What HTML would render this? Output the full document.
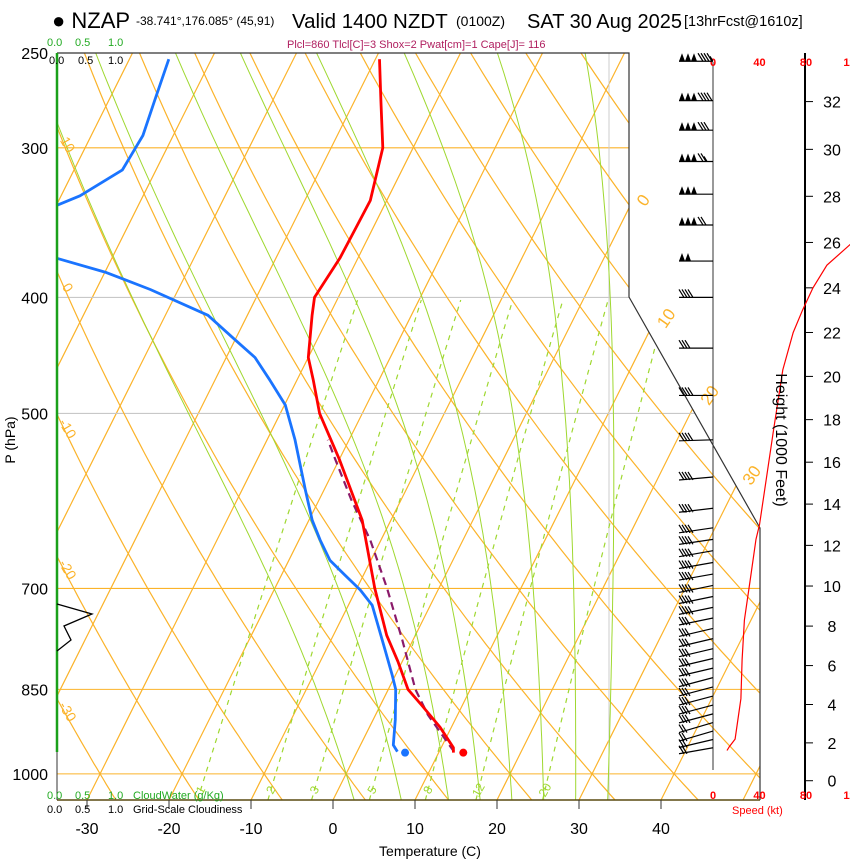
<!DOCTYPE html>
<html><head><meta charset="utf-8"><style>
html,body{margin:0;padding:0;background:#fff}
svg{display:block;font-family:"Liberation Sans",sans-serif}
</style></head><body>
<svg id="c" width="850" height="860" viewBox="0 0 850 860" xmlns="http://www.w3.org/2000/svg">
<defs><clipPath id="plotClip"><polygon points="57,53 629,53 629,297 760,528 760,800 57,800"/></clipPath>
<clipPath id="spdClip"><rect x="700" y="40" width="150" height="770"/></clipPath></defs>
<g id="grid" clip-path="url(#plotClip)"></g>
<g id="series" clip-path="url(#plotClip)"></g>
<g id="axes"></g>
<g id="barbs"></g>
<g id="spd" clip-path="url(#spdClip)"></g>
<g id="txt">
<text x="52" y="28" font-size="22">● NZAP</text>
<text x="136" y="25" font-size="12">-38.741°,176.085° (45,91)</text>
<text x="292" y="28" font-size="20.5">Valid 1400 NZDT</text>
<text x="456" y="26" font-size="14">(0100Z)</text>
<text x="527" y="28" font-size="20">SAT 30 Aug 2025</text>
<text x="684" y="26" font-size="14.5">[13hrFcst@1610z]</text>
<text x="287" y="48" font-size="11" fill="#b02060">Plcl=860 Tlcl[C]=3 Shox=2 Pwat[cm]=1 Cape[J]= 116</text>
<text x="47" y="46" font-size="11" fill="#22aa22">0.0 <tspan x="75">0.5</tspan><tspan x="108">1.0</tspan></text>
<text x="49" y="64" font-size="11">0.0 <tspan x="78">0.5</tspan><tspan x="108">1.0</tspan></text>
<text x="47" y="799" font-size="11" fill="#22aa22">0.0 <tspan x="75">0.5</tspan><tspan x="108">1.0</tspan><tspan x="133">CloudWater (g/Kg)</tspan></text>
<text x="47" y="813" font-size="11">0.0 <tspan x="75">0.5</tspan><tspan x="108">1.0</tspan><tspan x="133">Grid-Scale Cloudiness</tspan></text>
<text x="732" y="814" font-size="11" fill="#ff0000">Speed (kt)</text>
<text x="430" y="856" font-size="14" text-anchor="middle">Temperature (C)</text>
<text transform="translate(15,440) rotate(-90)" font-size="14" text-anchor="middle">P (hPa)</text>
<text transform="translate(776,440) rotate(90)" font-size="16" text-anchor="middle">Height (1000 Feet)</text>
</g>
</svg>
<script>
// ---------- data ----------
const pressureTicks=[250,300,400,500,700,850,1000];
const tempTicks=[-30,-20,-10,0,10,20,30,40];
const heightTicks=[0,2,4,6,8,10,12,14,16,18,20,22,24,26,28,30,32];
const speedTicks=[0,40,80,120];
const mixRatios=[1,2,3,5,8,12,20];
const moistThetaW=[0,6,12,16,20,24,28,32];
const tempP=[253,274,300,332,351,371,400,414,449,469,500,547,614,700,766,806,850,876,914,951,960];
const tempT=[-39.5,-36.8,-33.7,-32.0,-32.1,-32.2,-32.9,-32.1,-30.0,-28.0,-25.2,-19.9,-13.5,-7.8,-3.5,-0.5,2.4,5.0,8.6,11.5,11.8];
const dewP=[253,274,293,313,329,335,351,360,371,381,394,414,434,449,469,492,526,579,614,638,663,682,702,723,751,788,827,850,901,946,958];
const dewT=[-65.2,-64.4,-63.7,-64.1,-67.7,-69.9,-85,-85,-66.7,-60.0,-53.4,-44.8,-40.0,-36.5,-33.3,-29.9,-26.6,-22.3,-19.6,-17.4,-15.0,-12.3,-9.5,-7.1,-5.2,-2.8,-0.4,0.9,2.7,4.0,4.9];
const parcelP=[958,893,850,773,700,638,590,547,526];
const parcelT=[11.8,6.4,3.3,-1.3,-6.3,-11.3,-16.1,-20.4,-22.6];
const surfaceP=960, surfaceT=13.0, surfaceTd=5.9;
const speedHeights=[1.6,1.8,2.2,4.3,6.3,8.3,10.3,12.3,13,17.5,20.3,22,23,24,25,26,27];
const speedValues=[12,14,19,24,25,27,32,37,40,52,60,69,77,86,98,120,140];
const barbP=[254,274,290,308,328,348,373,400,441,483,526,565,600,623,637,651,666,681,696,711,726,741,756,771,786,801,816,831,846,861,876,891,906,921,936,951];
const barbSpeeds=[195,190,180,175,150,170,100,40,30,40,40,40,40,40,40,40,40,40,40,40,40,30,30,30,30,30,30,30,30,30,30,30,20,20,20,20];
const barbTilt=[0,0,0,0,0,0,0,0,0,0,1,3,4,5,5,6,6,6,7,7,7,7,8,8,8,8,8,9,9,9,9,9,10,10,8,6];
// ---------- scales ----------
const NS='http://www.w3.org/2000/svg';
function yP(p){return 53+520*Math.log(p/250);}
function pY(y){return 250*Math.exp((y-53)/520);}
function xT(T,y){return 333+8.2*T+0.5*(800-y);}
function pH(h){return 1013.25*Math.pow(1-6.8756e-6*h*1000,5.2559);}
function xS(s){return 713+s*46.5/40;}
function mk(parent,tag,attrs){const e=document.createElementNS(NS,tag);for(const k in attrs)e.setAttribute(k,attrs[k]);document.getElementById(parent).appendChild(e);return e;}
function path(pts){return pts.map((q,i)=>(i?'L':'M')+q[0].toFixed(1)+','+q[1].toFixed(1)).join('');}
const ORANGE='#fbb32a', GREEN='#9fd830';
// isotherms
for(let T=-130;T<=50;T+=10){
  const e=mk('grid','line',{x1:xT(T,800),y1:800,x2:xT(T,53),y2:53,stroke:ORANGE,'stroke-width':1.2});
  
  
}
// pressure lines
pressureTicks.forEach(p=>{
  const grey=(p==400||p==500);
  const e=mk('grid','line',{x1:57,x2:760,y1:yP(p),y2:yP(p),stroke:grey?'#c8c8c8':ORANGE,'stroke-width':1.1});
  
  
});
mk('grid','line',{x1:609,x2:609,y1:53,y2:800,stroke:'#cccccc','stroke-width':1});
// dry adiabats
function dryT(th,p){return (th+273.15)*Math.pow(p/1000,0.2857)-273.15;}
for(let th=-40;th<=220;th+=10){
  const pts=[];for(let p=1060;p>=240;p-=10){const y=yP(p);pts.push([xT(dryT(th,p),y),y]);}
  const e=mk('grid','path',{d:path(pts),fill:'none',stroke:ORANGE,'stroke-width':1.2});
  
  
}
// moist adiabats
function es(T){return 6.112*Math.exp(17.67*T/(T+243.5));}
function dTdp(T,p){const Tk=T+273.15,rs=0.622*es(T)/(p-es(T)),Lv=2.5e6,Rd=287,cp=1005;
  return (Rd*Tk+Lv*rs)/(p*(cp+Lv*Lv*rs*0.622/(Rd*Tk*Tk)));}
moistThetaW.forEach(tw=>{
  const pts=[];let T=tw;
  for(let p=1000;p<1060;p+=2){T+=dTdp(T,p)*2;}
  for(let p=1060;p>=240;p-=2){const y=yP(p);if(p%10==0)pts.push([xT(T,y),y]);T-=dTdp(T,p)*2;}
  const e=mk('grid','path',{d:path(pts),fill:'none',stroke:GREEN,'stroke-width':1});
  
  
});
// mixing ratio
function tdW(w,p){const e=w*p/(622+w),l=Math.log(e/6.112);return 243.5*l/(17.67-l);}
mixRatios.forEach(w=>{
  const pts=[];for(let p=1052;p>=400;p-=10){const y=yP(p);pts.push([xT(tdW(w,p),y),y]);}
  const e=mk('grid','path',{d:path(pts),fill:'none',stroke:GREEN,'stroke-width':1.2,'stroke-dasharray':'5,5'});
  
  
  const y=790,x=xT(tdW(w,pY(y)),y);
  const t=mk('grid','text',{x:x,y:y+4,'font-size':12,fill:GREEN,'text-anchor':'middle',transform:`rotate(-60 ${x} ${y})`});
  t.textContent=String(w);
  
  
});
// soundings
function line(P,T,attrs,name){const pts=P.map((p,i)=>{const y=yP(p);return [xT(T[i],y),y];});
  const e=mk('series','path',Object.assign({d:path(pts),fill:'none','stroke-linejoin':'round'},attrs));
  
  }
line(parcelP,parcelT,{stroke:'#8b1a6a','stroke-width':2.2,'stroke-dasharray':'8,5'},'parcel-path');
line(dewP,dewT,{stroke:'#1a74ff','stroke-width':2.8},'dewpoint-line');
line(tempP,tempT,{stroke:'#ff0000','stroke-width':2.8},'temperature-line');
{const y=yP(surfaceP);
 const a=mk('series','circle',{cx:xT(surfaceT,y),cy:y,r:4,fill:'#ff0000'});
 
 
 const b=mk('series','circle',{cx:xT(surfaceTd,y),cy:y,r:4,fill:'#1a74ff'});
 
 }
// borders
mk('axes','polyline',{points:'57,53 629,53 629,297 760,528 760,800',fill:'none',stroke:'#333','stroke-width':1.2});
mk('axes','line',{x1:57,x2:760,y1:800,y2:800,stroke:'#5a4a10','stroke-width':1.5});
mk('axes','line',{x1:57,x2:57,y1:53,y2:752,stroke:'#1aa01a','stroke-width':2.5});
mk('axes','line',{x1:57,x2:57,y1:752,y2:800,stroke:'#333','stroke-width':1});
mk('axes','polyline',{points:'57,604 92,614 64,626 71,640 57,651',fill:'none',stroke:'#000','stroke-width':1.3});
// y tick labels
pressureTicks.forEach(p=>{const t=mk('axes','text',{x:48,y:yP(p)+6,'font-size':16,'text-anchor':'end'});t.textContent=p;
  
  });
// x ticks
tempTicks.forEach(T=>{const x=xT(T,800);
  mk('axes','line',{x1:x,x2:x,y1:800,y2:809,stroke:'#333','stroke-width':1});
  const t=mk('axes','text',{x:x,y:834,'font-size':16,'text-anchor':'middle'});t.textContent=T;
  
  });
// isotherm labels (right edge)
[[0,200],[10,318],[20,395],[30,475]].forEach(([T,y])=>{const x=xT(T,y)+10;
  const t=mk('axes','text',{x:x,y:y+6,'font-size':17,fill:ORANGE,'text-anchor':'middle',transform:`rotate(-55 ${x} ${y})`});t.textContent=T;
  
  });
// theta labels (left edge)
[10,0,-10,-20,-30].forEach(th=>{let yy=53;for(let y=53;y<800;y++){if(xT(dryT(th,pY(y)),y)>=64){yy=y;break;}}
  const t=mk('axes','text',{x:67,y:yy+4,'font-size':14,fill:ORANGE,'text-anchor':'middle',transform:`rotate(60 67 ${yy})`});t.textContent=th;
  
  });
// height axis
mk('axes','line',{x1:805,x2:805,y1:53,y2:800,stroke:'#000','stroke-width':2});
heightTicks.forEach(h=>{const y=yP(pH(h));
  mk('axes','line',{x1:805,x2:813,y1:y,y2:y,stroke:'#000','stroke-width':1});
  const t=mk('axes','text',{x:832,y:y+6,'font-size':16,'text-anchor':'middle'});t.textContent=h;
  
  });
// speed axis
mk('axes','line',{x1:713,x2:713,y1:62,y2:770,stroke:'#333','stroke-width':1});
speedTicks.forEach(s=>{[66,799].forEach(y=>{const t=mk('axes','text',{x:xS(s),y:y,'font-size':11,'font-weight':'bold',fill:'#ff0000','text-anchor':'middle'});t.textContent=s;
  
  });});
// speed profile
{const pts=speedHeights.map((h,i)=>[xS(speedValues[i]),yP(pH(h))]);
 const e=mk('spd','path',{d:path(pts),fill:'none',stroke:'#ff0000','stroke-width':1.2});
 
 }
// barbs
barbP.forEach((p,i)=>{const y=yP(p),x0=713,x1=679,y1=y+barbTilt[i];
  const g=mk('barbs','g',{});
  
  
  let d=`M${x0},${y}L${x1},${y1}`;let s=barbSpeeds[i],x=x1,yy=y1;
  let fl='';
  while(s>=50){fl+=`M${x},${yy}L${x+3},${yy-8}L${x+6},${yy}Z`;x+=6;s-=50;}
  if(fl)x+=1;
  while(s>=10){d+=`M${x+5},${yy}L${x},${yy-8}`;x+=3;s-=10;}
  if(s>=5){d+=`M${x+3},${yy}L${x},${yy-5}`;}
  const a=document.createElementNS(NS,'path');a.setAttribute('d',d);a.setAttribute('stroke','#000');a.setAttribute('fill','none');a.setAttribute('stroke-width','1.2');g.appendChild(a);
  if(fl){const b=document.createElementNS(NS,'path');b.setAttribute('d',fl);b.setAttribute('fill','#000');g.appendChild(b);}
});
</script>
</body></html>
